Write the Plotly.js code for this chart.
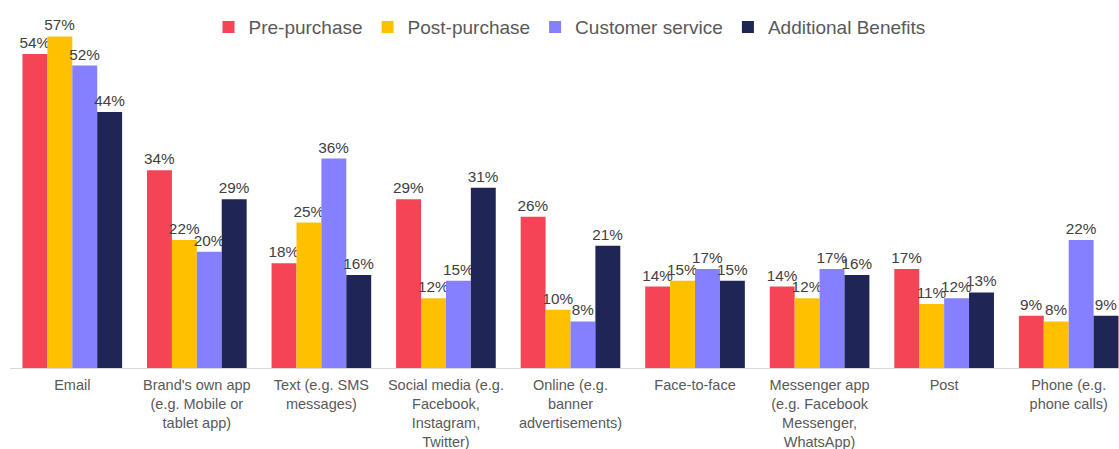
<!DOCTYPE html>
<html>
<head>
<meta charset="utf-8">
<script src="https://cdn.plot.ly/plotly-3.0.1.min.js"></script>
<style>html,body{margin:0;padding:0;background:#fff;overflow:hidden;}</style>
</head>
<body>
<div id="chart" style="width:1119px;height:449px;"></div>
<script>
const categories = [
  "Email",
  "Brand's own app<br>(e.g. Mobile or<br>tablet app)",
  "Text (e.g. SMS<br>messages)",
  "Social media (e.g.<br>Facebook,<br>Instagram,<br>Twitter)",
  "Online (e.g.<br>banner<br>advertisements)",
  "Face-to-face",
  "Messenger app<br>(e.g. Facebook<br>Messenger,<br>WhatsApp)",
  "Post",
  "Phone (e.g.<br>phone calls)"
];
const seriesNames = ["Pre-purchase", "Post-purchase", "Customer service", "Additional Benefits"];
const prePurchase = [54, 34, 18, 29, 26, 14, 14, 17, 9];
const postPurchase = [57, 22, 25, 12, 10, 15, 12, 11, 8];
const customerService = [52, 20, 36, 15, 8, 17, 17, 12, 22];
const additionalBenefits = [44, 29, 16, 31, 21, 15, 16, 13, 9];
const colors = ["#F44455", "#FFC000", "#8480FF", "#1F2554"];

const allSeries = [prePurchase, postPurchase, customerService, additionalBenefits];
const font = "Liberation Sans, Arial, sans-serif";
const traces = allSeries.map((vals, i) => ({
  type: "bar",
  name: seriesNames[i],
  x: categories,
  y: vals,
  marker: {color: colors[i], line: {width: 5, color: "rgba(0,0,0,0)"}},
  text: vals.map(v => v + "%"),
  textposition: "outside",
  textfont: {family: font, size: 15.3, color: "#404040"},
  constraintext: "none",
  cliponaxis: false,
  hoverinfo: "skip"
}));

const layout = {
  width: 1119,
  height: 449,
  margin: {l: 10, r: 0, t: 19, b: 81},
  paper_bgcolor: "#ffffff",
  plot_bgcolor: "#ffffff",
  barmode: "group",
  bargap: 0.2,
  bargroupgap: 0,
  showlegend: true,
  legend: {
    orientation: "h",
    x: 0.179,
    xanchor: "left",
    y: 0.977,
    yanchor: "middle",
    font: {family: font, size: 19, color: "#595959"},
    bgcolor: "rgba(0,0,0,0)",
    itemclick: false
  },
  xaxis: {
    type: "category",
    range: [-0.5, 8.404],
    showline: true,
    linecolor: "#D9D9D9",
    linewidth: 1,
    ticks: "",
    showgrid: false,
    zeroline: false,
    tickfont: {family: font, size: 14.5, color: "#595959"},
    ticklabelstandoff: 4,
    fixedrange: true
  },
  yaxis: {
    range: [0, 60],
    showgrid: false,
    zeroline: false,
    showticklabels: false,
    showline: false,
    ticks: "",
    fixedrange: true
  }
};

Plotly.newPlot("chart", traces, layout, {displayModeBar: false, staticPlot: true});
</script>
</body>
</html>
